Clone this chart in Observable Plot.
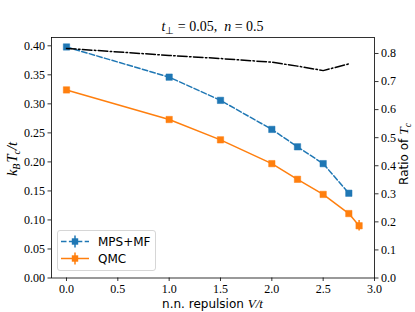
<!DOCTYPE html>
<html><head><meta charset="utf-8">
<script src="https://cdn.jsdelivr.net/npm/d3@7"></script>
<script src="https://cdn.jsdelivr.net/npm/@observablehq/plot@0.6"></script>
<style>
body{margin:0;background:#fff}
#chart{position:relative;width:415px;height:312px}
</style>
</head><body><div id="chart"></div>
<script>
// ---- data ----
const mpsV   = [0, 1, 1.5, 2, 2.25, 2.5, 2.75];
const mpsTc  = [0.398, 0.346, 0.306, 0.256, 0.226, 0.197, 0.146];
const mpsErr = [0.002, 0.002, 0.002, 0.002, 0.002, 0.002, 0.002];
const qmcV   = [0, 1, 1.5, 2, 2.25, 2.5, 2.75, 2.85];
const qmcTc  = [0.324, 0.273, 0.238, 0.197, 0.170, 0.144, 0.111, 0.090];
const qmcErr = [0.002, 0.002, 0.002, 0.002, 0.002, 0.002, 0.003, 0.009];
const ratioV = [0, 1, 1.5, 2, 2.25, 2.5, 2.75];
const ratio  = [0.818, 0.793, 0.782, 0.769, 0.755, 0.739, 0.763];
const xTicks = [0, 0.5, 1, 1.5, 2, 2.5, 3];
const yTicks = [0, 0.05, 0.10, 0.15, 0.20, 0.25, 0.30, 0.35, 0.40];
const ratioTicks = [0, 0.1, 0.2, 0.3, 0.4, 0.5, 0.6, 0.7, 0.8];

const yMax = 0.4143, rMax = 0.857;
const f = yMax / rMax; // ratio -> left-axis units

const mps = mpsV.map((v, i) => ({V: v, tc: mpsTc[i], err: mpsErr[i]}));
const qmc = qmcV.map((v, i) => ({V: v, tc: qmcTc[i], err: qmcErr[i]}));
const rat = ratioV.map((v, i) => ({V: v, r: ratio[i]}));

const blue = "#1f77b4", orange = "#ff7f0e";
const serif = "'Liberation Serif', serif";
const sans = "'DejaVu Sans', sans-serif";
const axOpts = {tickSize: 3.5, tickPadding: 3, label: null, strokeWidth: 0.8};

const plot = Plot.plot({
  width: 415, height: 312,
  marginLeft: 51, marginRight: 41, marginTop: 37, marginBottom: 34.5,
  style: {background: "#fff", color: "#000"},
  x: {domain: [-0.146, 3.0]},
  y: {domain: [0, yMax]},
  marks: [
    Plot.axisX({ticks: xTicks, tickFormat: d => d.toFixed(1), ...axOpts}),
    Plot.axisY({ticks: yTicks, tickFormat: d => d.toFixed(2), ...axOpts}),
    Plot.axisY(ratioTicks.map(r => r * f), {anchor: "right", tickFormat: d => (d / f).toFixed(1), ...axOpts}),
    // MPS+MF
    Plot.line(mps, {x: "V", y: "tc", stroke: blue, strokeWidth: 1.5, strokeDasharray: "5.5,2.4"}),
    Plot.ruleX(mps, {x: "V", y1: d => d.tc - d.err, y2: d => d.tc + d.err, stroke: blue, strokeWidth: 1.5}),
    Plot.dot(mps, {x: "V", y: "tc", symbol: "square", r: 3.6, fill: blue, stroke: blue, strokeWidth: 0.5}),
    // QMC
    Plot.line(qmc, {x: "V", y: "tc", stroke: orange, strokeWidth: 1.5}),
    Plot.ruleX(qmc, {x: "V", y1: d => d.tc - d.err, y2: d => d.tc + d.err, stroke: orange, strokeWidth: 1.5}),
    Plot.dot(qmc, {x: "V", y: "tc", symbol: "square", r: 3.6, fill: orange, stroke: orange, strokeWidth: 0.5}),
    // ratio (right axis)
    Plot.line(rat, {x: "V", y: d => d.r * f, stroke: "#000", strokeWidth: 1.5, strokeDasharray: "9.6,2.4,1.5,2.4"}),
    Plot.frame({stroke: "#000", strokeWidth: 0.8})
  ]
});
document.getElementById("chart").appendChild(plot);

const svg = d3.select(plot);
// serif tick labels
svg.selectAll("g[aria-label$='tick label']").attr("font-family", null).attr("font-size", null)
  .style("font-family", serif).style("font-size", "12px");
svg.selectAll("g[aria-label$='tick label'] text").style("font-family", serif).style("font-size", "12px");

// title
const title = svg.append("text").attr("x", 212.5).attr("y", 30.5).attr("text-anchor", "middle")
  .style("font-family", serif).style("font-size", "14px");
title.append("tspan").style("font-style", "italic").text("t");
title.append("tspan").attr("dy", 3).style("font-size", "10px").text("⊥");
title.append("tspan").attr("dy", -3).text(" = 0.05,  ");
title.append("tspan").style("font-style", "italic").text("n");
title.append("tspan").text(" = 0.5");

// x label
const xl = svg.append("text").attr("x", 212.5).attr("y", 308).attr("text-anchor", "middle")
  .style("font-family", sans).style("font-size", "12px");
xl.append("tspan").text("n.n. repulsion ");
xl.append("tspan").style("font-family", serif).style("font-style", "italic").style("font-size", "13px").text("V/t");

// left y label
const yl = svg.append("text").attr("transform", "translate(16.5,159) rotate(-90)").attr("text-anchor", "middle")
  .style("font-family", serif).style("font-size", "14.5px").style("font-style", "italic");
yl.append("tspan").text("k");
yl.append("tspan").attr("dy", 3).style("font-size", "10px").text("B");
yl.append("tspan").attr("dy", -3).attr("dx", 1).text("T");
yl.append("tspan").attr("dy", 3).style("font-size", "10px").text("c");
yl.append("tspan").attr("dy", -3).text("/t");

// right y label
const rl = svg.append("text").attr("transform", "translate(408,154) rotate(-90)").attr("text-anchor", "middle")
  .style("font-family", sans).style("font-size", "12px");
rl.append("tspan").text("Ratio of ");
rl.append("tspan").style("font-family", serif).style("font-style", "italic").style("font-size", "13.5px").text("T");
rl.append("tspan").attr("dy", 3).style("font-family", serif).style("font-style", "italic").style("font-size", "9.5px").text("c");

// legend
const lg = svg.append("g");
lg.append("rect").attr("x", 57.5).attr("y", 230.5).attr("width", 98).attr("height", 40).attr("rx", 2.5)
  .attr("fill", "#fff").attr("fill-opacity", 0.8).attr("stroke", "#ccc").attr("stroke-width", 0.8);
const entries = [
  {label: "MPS+MF", color: blue, dash: "5.5,2.4", y: 241.5},
  {label: "QMC", color: orange, dash: null, y: 258.5}
];
for (const e of entries) {
  lg.append("line").attr("x1", 61).attr("x2", 89).attr("y1", e.y).attr("y2", e.y)
    .attr("stroke", e.color).attr("stroke-width", 1.5).attr("stroke-dasharray", e.dash);
  lg.append("line").attr("x1", 75).attr("x2", 75).attr("y1", e.y - 6).attr("y2", e.y + 6)
    .attr("stroke", e.color).attr("stroke-width", 1.5);
  lg.append("rect").attr("x", 75 - 3.2).attr("y", e.y - 3.2).attr("width", 6.4).attr("height", 6.4).attr("fill", e.color);
  lg.append("text").attr("x", 98).attr("y", e.y).attr("dy", "0.36em").attr("text-anchor", "start")
    .style("font-family", sans).style("font-size", "12px").text(e.label);
}
</script>
</body></html>
